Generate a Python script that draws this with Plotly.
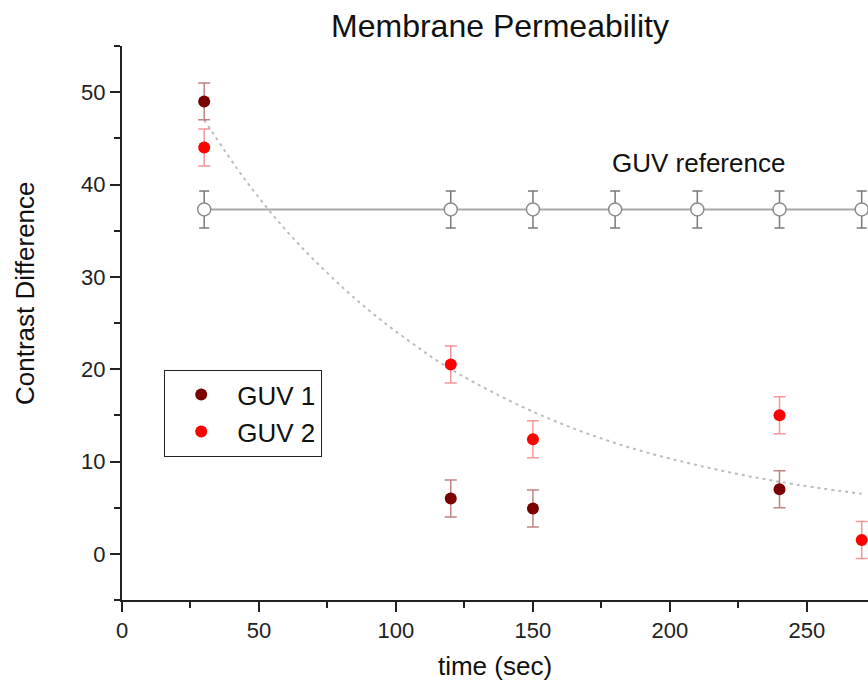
import plotly.graph_objects as go

# ---- data ----
t1 = [30, 120, 150, 240]
guv1 = [49.0, 6.0, 4.9, 7.0]
guv1_err = [2.0, 2.0, 2.0, 2.0]

t2 = [30, 120, 150, 240, 270]
guv2 = [44.0, 20.5, 12.4, 15.0, 1.5]
guv2_err = [2.0, 2.0, 2.0, 2.0, 2.0]

t_ref = [30, 120, 150, 180, 210, 240, 270]
ref = [37.3, 37.3, 37.3, 37.3, 37.3, 37.3, 37.3]
ref_err = [2.0, 2.0, 2.0, 2.0, 2.0, 2.0, 2.0]

# decay curve
t_fit = [30, 45, 60, 75, 90, 105, 120, 150, 180, 210, 240, 270]
fit = [47.0, 40.5, 35.0, 30.4, 26.4, 23.0, 20.0, 15.4, 12.0, 9.6, 7.8, 6.5]

x_ticks = [0, 50, 100, 150, 200, 250]
y_ticks = [0, 10, 20, 30, 40, 50]

FONT = "Liberation Sans, Arial, sans-serif"

fig = go.Figure()

fig.add_trace(go.Scatter(
    x=t_ref, y=ref, mode="lines+markers", showlegend=False,
    line=dict(color="#a8a8a8", width=2),
    marker=dict(symbol="circle", size=13, color="white",
                line=dict(color="#8c8c8c", width=1.5)),
    error_y=dict(type="data", array=ref_err, color="#7a7a7a",
                 thickness=1.5, width=5),
))

fig.add_trace(go.Scatter(
    x=t_fit, y=fit, mode="lines", showlegend=False,
    line=dict(color="#bdbdbd", width=2, dash="3px,4px", shape="spline"),
    hoverinfo="skip",
))

fig.add_trace(go.Scatter(
    x=t1, y=guv1, mode="markers", name="GUV 1",
    marker=dict(color="#7a0000", size=12),
    error_y=dict(type="data", array=guv1_err, color="rgba(140,30,30,0.55)",
                 thickness=1.5, width=6),
))

fig.add_trace(go.Scatter(
    x=t2, y=guv2, mode="markers", name="GUV 2",
    marker=dict(color="#ff0000", size=12),
    error_y=dict(type="data", array=guv2_err, color="rgba(240,80,80,0.6)",
                 thickness=1.5, width=6),
))

axis_common = dict(
    showgrid=False, zeroline=False, showline=True, linecolor="#222",
    linewidth=2, ticks="outside", ticklen=10, tickwidth=2, tickcolor="#222",
    tickfont=dict(family=FONT, size=22, color="#222"),
)

fig.update_xaxes(
    range=[0, 272.3], tickmode="array", tickvals=x_ticks,
    minor=dict(dtick=25, tick0=0, ticks="outside", ticklen=6, tickwidth=2,
               tickcolor="#222", showgrid=False),
    title=dict(text="time (sec)", font=dict(family=FONT, size=26, color="#111"),
               standoff=15),
    **axis_common,
)
fig.update_yaxes(
    range=[-5, 55], tickmode="array", tickvals=y_ticks,
    minor=dict(dtick=5, tick0=-5, ticks="outside", ticklen=6, tickwidth=2,
               tickcolor="#222", showgrid=False),
    **axis_common,
)

fig.update_layout(
    width=868, height=681,
    margin=dict(l=122, r=0, t=46, b=81, pad=0),
    plot_bgcolor="white", paper_bgcolor="white",
    title=dict(text="Membrane Permeability", x=500 / 868, xref="container",
               xanchor="center", y=1 - 26 / 681, yref="container",
               yanchor="middle", font=dict(family=FONT, size=32, color="#111")),
    showlegend=True,
    legend=dict(x=(164 - 122) / 746, y=(600 - 370) / 554, xanchor="left",
                yanchor="top", bordercolor="#222", borderwidth=1.2,
                bgcolor="white", font=dict(family=FONT, size=26, color="#111"),
                itemwidth=62, tracegroupgap=0),
    annotations=[
        dict(text="GUV reference", x=210.5, y=42.3, xref="x", yref="y",
             showarrow=False, xanchor="center", yanchor="middle",
             font=dict(family=FONT, size=26, color="#111")),
        dict(text="Contrast Difference", x=(25 - 122) / 746,
             y=(600 - 293) / 554, xref="paper", yref="paper",
             showarrow=False, textangle=-90,
             xanchor="center", yanchor="middle",
             font=dict(family=FONT, size=26, color="#111")),
    ],
)

fig.write_html("out.html")
